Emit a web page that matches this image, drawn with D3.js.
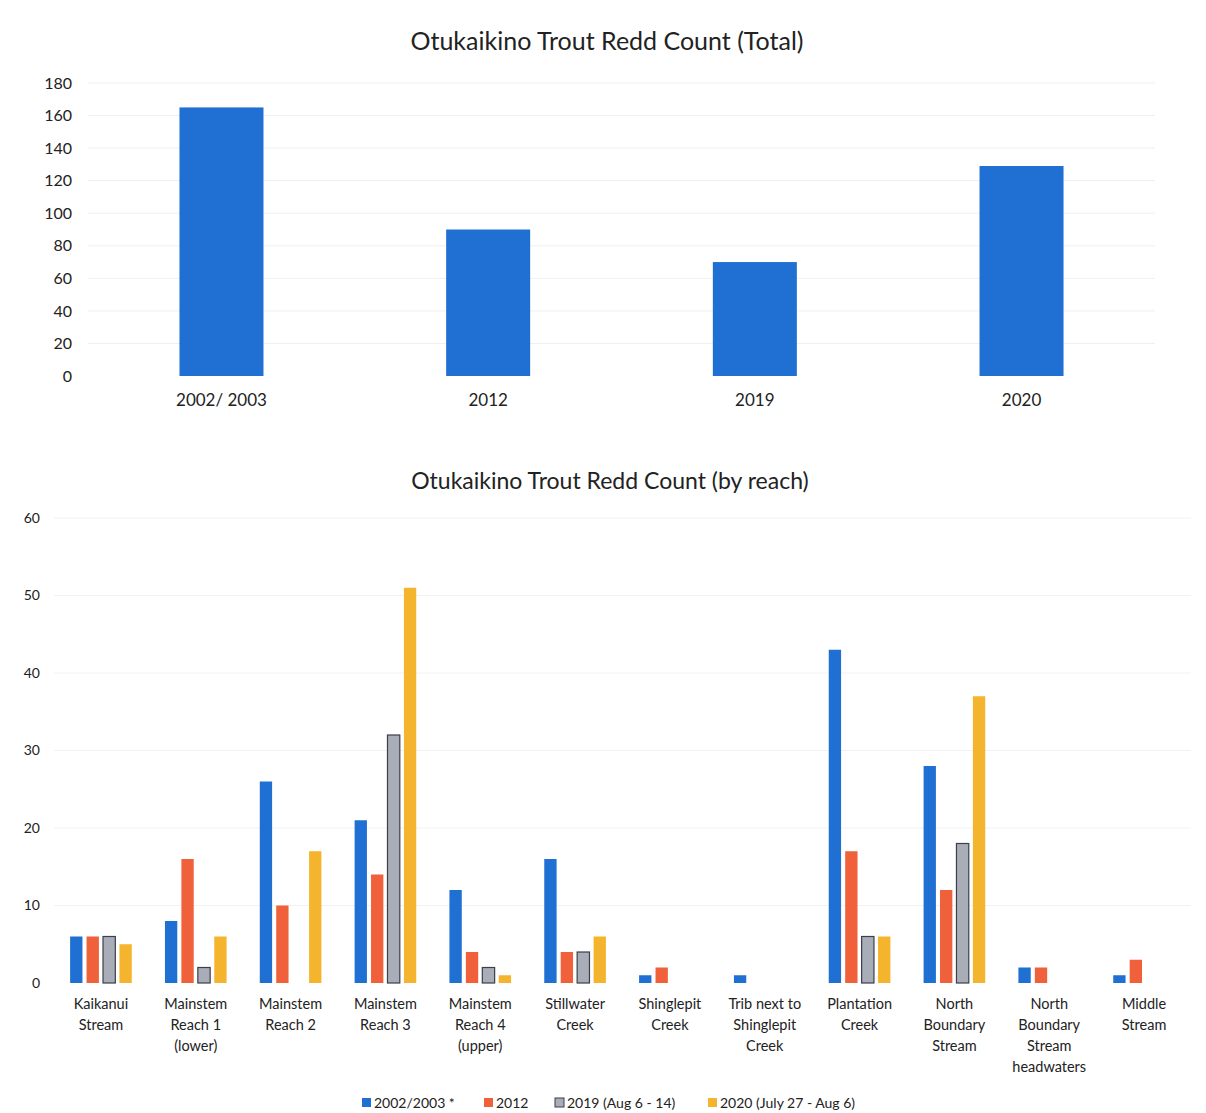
<!DOCTYPE html>
<html>
<head>
<meta charset="utf-8">
<script src="https://cdn.jsdelivr.net/npm/d3@7"></script>
<style>
  body { margin: 0; background: #fff; }
  text { font-family: Lato, "Open Sans", sans-serif; fill: #222; }
</style>
</head>
<body>
<div id="chart"></div>
<script>
// data
var totalYears = ["2002/ 2003", "2012", "2019", "2020"];
var totalCounts = [165, 90, 70, 129];

var reaches = [
  ["Kaikanui", "Stream"],
  ["Mainstem", "Reach 1", "(lower)"],
  ["Mainstem", "Reach 2"],
  ["Mainstem", "Reach 3"],
  ["Mainstem", "Reach 4", "(upper)"],
  ["Stillwater", "Creek"],
  ["Shinglepit", "Creek"],
  ["Trib next to", "Shinglepit", "Creek"],
  ["Plantation", "Creek"],
  ["North", "Boundary", "Stream"],
  ["North", "Boundary", "Stream", "headwaters"],
  ["Middle", "Stream"]
];
var seriesNames = ["2002/2003 *", "2012", "2019 (Aug 6 - 14)", "2020 (July 27 - Aug 6)"];
var s2002 = [6, 8, 26, 21, 12, 16, 1, 1, 43, 28, 2, 1];
var s2012 = [6, 16, 10, 14, 4, 4, 2, 0, 17, 12, 2, 3];
var s2019 = [6, 2, 0, 32, 2, 4, 0, 0, 6, 18, 0, 0];
var s2020 = [5, 6, 17, 51, 1, 6, 0, 0, 6, 37, 0, 0];
var seriesValues = [s2002, s2012, s2019, s2020];

var colors = ["#1f70d2", "#f0603a", "#a9adb8", "#f5b42e"];
var strokes = ["none", "none", "#3a3f4a", "none"];

var svgWidth = 1206, svgHeight = 1113;
var svg = d3.select("#chart").append("svg")
  .attr("width", svgWidth)
  .attr("height", svgHeight);

// ---------- top chart: totals ----------
var m1 = { left: 88, right: 1155, top: 83, bottom: 376 };

var x1 = d3.scaleBand()
  .domain(totalYears)
  .range([m1.left, m1.right])
  .paddingInner(0.685)
  .paddingOuter(0.343);

var y1 = d3.scaleLinear()
  .domain([0, 180])
  .range([m1.bottom, m1.top]);

svg.append("text")
  .attr("x", 607).attr("y", 50)
  .attr("text-anchor", "middle")
  .attr("font-size", "25px")
  .text("Otukaikino Trout Redd Count (Total)");

var g1 = svg.append("g");

g1.selectAll(".grid")
  .data(d3.range(20, 181, 20))
  .enter().append("line")
  .attr("x1", m1.left).attr("x2", m1.right)
  .attr("y1", d => y1(d)).attr("y2", d => y1(d))
  .attr("stroke", "#f0f0f0");

var leftAxis1 = d3.axisLeft(y1).tickValues(d3.range(0, 181, 20)).tickSize(0).tickPadding(16);
g1.append("g")
  .attr("transform", `translate(${m1.left}, 0)`)
  .call(leftAxis1)
  .call(g => g.select(".domain").remove())
  .selectAll("text")
  .attr("font-size", "16px")
  .style("font-family", "Lato, sans-serif")
  .attr("fill", "#222");

g1.selectAll("rect")
  .data(totalCounts)
  .enter().append("rect")
  .attr("x", (d, i) => x1(totalYears[i]))
  .attr("y", d => y1(d))
  .attr("width", x1.bandwidth())
  .attr("height", d => m1.bottom - y1(d))
  .attr("fill", colors[0]);

var bottomAxis1 = d3.axisBottom(x1).tickSize(0).tickPadding(18);
g1.append("g")
  .attr("transform", `translate(0, ${m1.bottom})`)
  .call(bottomAxis1)
  .call(g => g.select(".domain").remove())
  .selectAll("text")
  .attr("font-size", "17px")
  .style("font-family", "Lato, sans-serif")
  .attr("fill", "#222");

// ---------- bottom chart: by reach ----------
var m2 = { left: 54, right: 1191, top: 518, bottom: 983 };

var x2 = d3.scaleBand()
  .domain(d3.range(reaches.length))
  .range([m2.left, m2.right])
  .paddingInner(0.35)
  .paddingOuter(0.17);

var xs = d3.scaleBand()
  .domain(d3.range(seriesNames.length))
  .range([0, x2.bandwidth()])
  .paddingInner(0.25);

var y2 = d3.scaleLinear()
  .domain([0, 60])
  .range([m2.bottom, m2.top]);

svg.append("text")
  .attr("x", 610).attr("y", 489)
  .attr("text-anchor", "middle")
  .attr("font-size", "23px")
  .text("Otukaikino Trout Redd Count (by reach)");

var g2 = svg.append("g");

g2.selectAll(".grid")
  .data(d3.range(10, 61, 10))
  .enter().append("line")
  .attr("x1", m2.left).attr("x2", m2.right)
  .attr("y1", d => y2(d)).attr("y2", d => y2(d))
  .attr("stroke", "#f2f2f2");

var leftAxis2 = d3.axisLeft(y2).tickValues(d3.range(0, 61, 10)).tickSize(0).tickPadding(14);
g2.append("g")
  .attr("transform", `translate(${m2.left}, 0)`)
  .call(leftAxis2)
  .call(g => g.select(".domain").remove())
  .selectAll("text")
  .attr("font-size", "14px")
  .style("font-family", "Lato, sans-serif")
  .attr("fill", "#222");

seriesValues.forEach(function(vals, s) {
  g2.append("g").selectAll("rect")
    .data(vals)
    .enter().append("rect")
    .attr("x", (d, i) => x2(i) + xs(s))
    .attr("y", d => y2(d))
    .attr("width", xs.bandwidth())
    .attr("height", d => m2.bottom - y2(d))
    .attr("fill", colors[s])
    .attr("stroke", d => d > 0 ? strokes[s] : "none")
    .attr("stroke-width", 1.2);
});

// category labels (multi-line)
var labels = g2.selectAll(".cat")
  .data(reaches)
  .enter().append("text")
  .attr("class", "cat")
  .attr("text-anchor", "middle")
  .attr("font-size", "14.5px")
  .attr("x", (d, i) => x2(i) + x2.bandwidth() / 2)
  .attr("y", m2.bottom + 26);

labels.selectAll("tspan")
  .data(d => d)
  .enter().append("tspan")
  .attr("x", function() { return d3.select(this.parentNode).attr("x"); })
  .attr("dy", (d, i) => i === 0 ? 0 : "1.45em")
  .text(d => d);

// legend
var legendX = [362, 484, 555, 708];
var legend = svg.append("g").attr("transform", "translate(0, 1103)");
seriesNames.forEach(function(name, s) {
  legend.append("rect")
    .attr("x", legendX[s]).attr("y", -5)
    .attr("width", 9).attr("height", 9)
    .attr("fill", colors[s])
    .attr("stroke", strokes[s]);
  legend.append("text")
    .attr("x", legendX[s] + 12).attr("y", 5)
    .attr("font-size", "14px")
    .text(name);
});
</script>
</body>
</html>
